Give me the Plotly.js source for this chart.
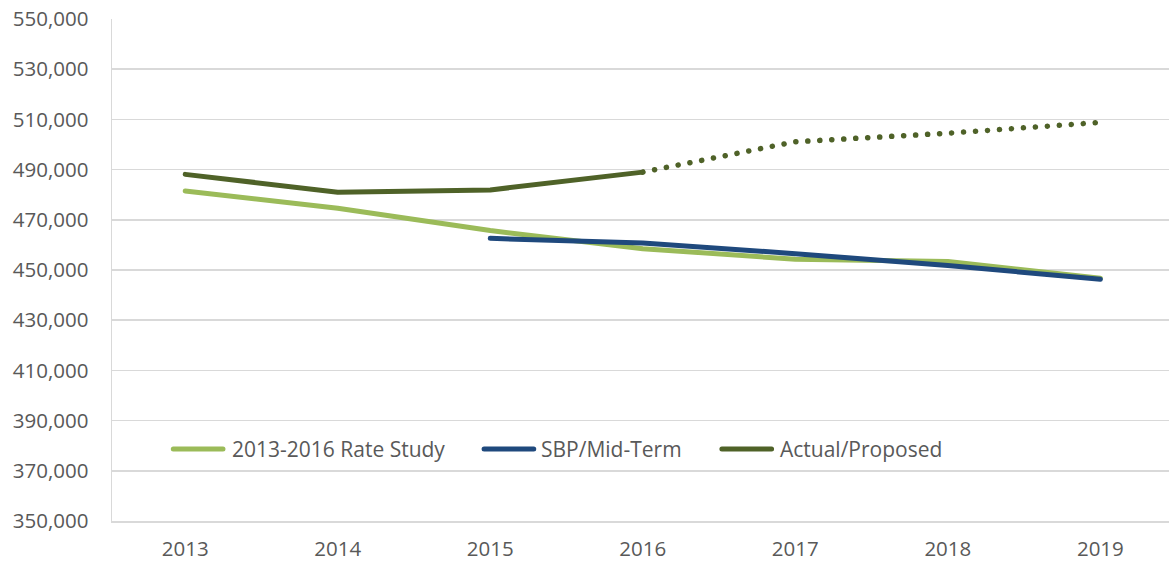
<!DOCTYPE html>
<html>
<head>
<meta charset="utf-8">
<script src="https://cdn.plot.ly/plotly-3.0.1.min.js"></script>
<style>
  html, body { margin: 0; padding: 0; background: #fff; overflow: hidden; }
  #chart { width: 1169px; height: 564px; }
  .js-line { stroke-linecap: round; stroke-linejoin: round; }
  .shapelayer path { stroke-linecap: round; }
</style>
</head>
<body>
<div id="chart"></div>
<script>
const years = ['2013', '2014', '2015', '2016', '2017', '2018', '2019'];
const rateStudy = [481500, 474600, 465700, 458500, 454300, 453400, 446700];
const sbpMidTerm = [null, null, 462600, 460800, 456500, 451800, 446300];
const actual = [488100, 481000, 481900, 489000, null, null, null];
const proposed = [null, null, null, 489000, 501100, 504500, 508800];
const yTicks = [350000, 370000, 390000, 410000, 430000, 450000, 470000, 490000, 510000, 530000, 550000];

const names = ['2013-2016 Rate Study', 'SBP/Mid-Term', 'Actual/Proposed'];
const colors = ['#9BBB59', '#1F497D', '#4F6228'];

const font = { family: '"Open Sans", "Liberation Sans", sans-serif', size: 20.5, color: '#595959' };
const legendFont = { family: '"Open Sans", "Liberation Sans", sans-serif', size: 21, color: '#595959' };

const traces = [
  { x: years, y: rateStudy, name: names[0], type: 'scatter', mode: 'lines',
    line: { color: colors[0], width: 5 }, connectgaps: false },
  { x: years, y: sbpMidTerm, name: names[1], type: 'scatter', mode: 'lines',
    line: { color: colors[1], width: 5 }, connectgaps: false },
  { x: years, y: actual, name: names[2], type: 'scatter', mode: 'lines',
    line: { color: colors[2], width: 5 }, connectgaps: false },
  { x: years, y: proposed, name: names[2] + ' (proposed)', type: 'scatter', mode: 'lines',
    line: { color: colors[2], width: 5.5, dash: '0.1px,11.9px' }, connectgaps: false, showlegend: false }
];

// custom legend (line samples + text) to match the Excel legend layout
const legendPos = [
  { x0: 0.058, x1: 0.105, tx: 0.1116 },
  { x0: 0.352, x1: 0.399, tx: 0.404 },
  { x0: 0.577, x1: 0.624, tx: 0.6301 }
];
const legendY = 0.1434;
const shapes = legendPos.map((p, i) => ({
  type: 'line', xref: 'paper', yref: 'paper',
  x0: p.x0, x1: p.x1, y0: legendY, y1: legendY,
  line: { color: colors[i], width: 5 }
}));
const annotations = legendPos.map((p, i) => ({
  xref: 'paper', yref: 'paper', x: p.tx, y: legendY,
  xanchor: 'left', yanchor: 'middle', showarrow: false,
  text: names[i], font: legendFont
}));

const layout = {
  width: 1169, height: 564,
  margin: { l: 112, r: 0, t: 19, b: 43, pad: 0 },
  paper_bgcolor: '#ffffff', plot_bgcolor: '#ffffff',
  showlegend: false,
  font: font,
  xaxis: {
    type: 'category', range: [-0.48, 6.45],
    showgrid: false, zeroline: false,
    showline: true, linecolor: '#D9D9D9', linewidth: 1.5,
    ticks: '', tickfont: font, ticklabelstandoff: 9
  },
  yaxis: {
    range: [350000, 550000], tickvals: yTicks, tickformat: ',',
    showgrid: true, gridcolor: '#D9D9D9', gridwidth: 1.5, zeroline: false,
    showline: true, linecolor: '#D9D9D9', linewidth: 1.5,
    ticks: '', tickfont: font, ticklabelstandoff: 18
  },
  shapes: shapes,
  annotations: annotations
};

Plotly.newPlot('chart', traces, layout, { staticPlot: true, displayModeBar: false });
</script>
</body>
</html>
